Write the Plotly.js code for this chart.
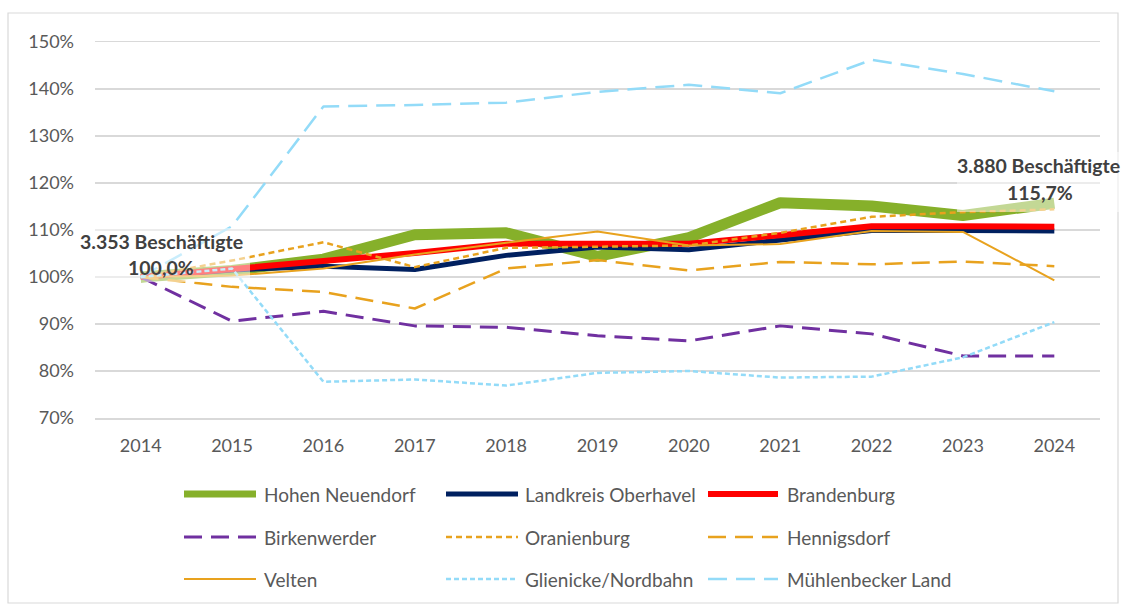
<!DOCTYPE html>
<html>
<head>
<meta charset="utf-8">
<script src="https://cdn.plot.ly/plotly-3.0.1.min.js"></script>
<style>
  html, body { margin: 0; padding: 0; background: #fff; }
  #chart { width: 1123px; height: 606px; }
  .scatterlayer path.js-line { stroke-linejoin: round; }
</style>
</head>
<body>
<div id="chart"></div>
<script>
// ---- data ----
const years = ['2014','2015','2016','2017','2018','2019','2020','2021','2022','2023','2024'];
const seriesNames = ['Hohen Neuendorf','Landkreis Oberhavel','Brandenburg','Birkenwerder','Oranienburg','Hennigsdorf','Velten','Glienicke/Nordbahn','Mühlenbecker Land'];
const hohenNeuendorf = [100, 101.4, 103.8, 109.0, 109.4, 104.4, 108.4, 115.8, 115.1, 113.1, 115.7];
const landkreisOberhavel = [100, 101.5, 102.3, 101.6, 104.6, 106.4, 105.8, 107.8, 109.9, 109.9, 109.8];
const brandenburg = [100, 101.6, 103.2, 105.1, 107.1, 107.2, 107.1, 108.9, 110.8, 110.8, 110.7];
const birkenwerder = [100, 90.6, 92.7, 89.6, 89.3, 87.5, 86.4, 89.6, 87.9, 83.2, 83.2];
const oranienburg = [100, 103.5, 107.4, 102.1, 106.2, 106.4, 106.7, 109.4, 112.8, 113.8, 114.4];
const hennigsdorf = [100, 97.9, 96.8, 93.3, 101.8, 103.6, 101.4, 103.2, 102.7, 103.3, 102.3];
const velten = [100, 100.3, 101.8, 104.8, 107.3, 109.7, 106.7, 107.0, 109.8, 109.6, 99.3];
const glienicke = [100, 101.8, 77.7, 78.2, 76.9, 79.6, 80.0, 78.6, 78.8, 82.9, 90.4];
const muehlenbecker = [100, 110.8, 136.3, 136.6, 137.1, 139.4, 140.9, 139.1, 146.2, 143.2, 139.5];
const startLabel = ['3.353 Beschäftigte', '100,0%'];
const endLabel = ['3.880 Beschäftigte', '115,7%'];

// ---- styles ----
const values = [hohenNeuendorf, landkreisOberhavel, brandenburg, birkenwerder, oranienburg, hennigsdorf, velten, glienicke, muehlenbecker];
const styles = [
  {color: '#86B02A', width: 11, dash: 'solid'},
  {color: '#002060', width: 5, dash: 'solid'},
  {color: '#FF0000', width: 6, dash: 'solid'},
  {color: '#7030A0', width: 3, dash: '18px,9px'},
  {color: '#E8A21E', width: 2.5, dash: '6px,4px'},
  {color: '#E8A21E', width: 2.5, dash: '18px,9px'},
  {color: '#E8A21E', width: 2, dash: 'solid'},
  {color: '#93DBF8', width: 2.5, dash: '5px,3px'},
  {color: '#93DBF8', width: 2.5, dash: '19px,9px'}
];

const L = 95, R = 1100, T = 42, B = 418;
const px = p => (p - L) / (R - L);
const py = p => (B - p) / (B - T);

const traces = values.map((v, i) => ({
  type: 'scatter', mode: 'lines', x: years, y: v, name: seriesNames[i],
  line: {color: styles[i].color, width: styles[i].width, dash: styles[i].dash},
  hoverinfo: 'skip', showlegend: false
}));

const shapes = [];
const annotations = [];
// outer border
shapes.push({type: 'rect', xref: 'paper', yref: 'paper', x0: px(8), x1: px(1118), y0: py(13), y1: py(603),
  line: {color: '#D9D9D9', width: 1.2}, fillcolor: 'rgba(0,0,0,0)', layer: 'below'});
// label boxes (semi-transparent)
shapes.push({type: 'rect', xref: 'paper', yref: 'paper', x0: px(78), x1: px(250), y0: py(228), y1: py(282),
  line: {width: 0}, fillcolor: 'rgba(255,255,255,0.5)', layer: 'above'});
shapes.push({type: 'rect', xref: 'paper', yref: 'paper', x0: px(957), x1: px(1120), y0: py(152), y1: py(212),
  line: {width: 0}, fillcolor: 'rgba(255,255,255,0.5)', layer: 'above'});

const lblFont = {family: 'Lato, sans-serif', size: 19.5, color: '#404040', weight: 'bold'};
annotations.push({xref: 'paper', yref: 'paper', x: px(161), y: py(241), text: '<b>' + startLabel[0] + '</b>', showarrow: false, font: lblFont, xanchor: 'center', yanchor: 'middle'});
annotations.push({xref: 'paper', yref: 'paper', x: px(161), y: py(267), text: '<b>' + startLabel[1] + '</b>', showarrow: false, font: lblFont, xanchor: 'center', yanchor: 'middle'});
annotations.push({xref: 'paper', yref: 'paper', x: px(1038), y: py(165), text: '<b>' + endLabel[0] + '</b>', showarrow: false, font: lblFont, xanchor: 'center', yanchor: 'middle'});
annotations.push({xref: 'paper', yref: 'paper', x: px(1040), y: py(192), text: '<b>' + endLabel[1] + '</b>', showarrow: false, font: lblFont, xanchor: 'center', yanchor: 'middle'});

// custom legend
const colX = [[184, 256, 262], [446, 518, 523], [708, 778, 785]];
const rowY = [494, 537, 579];
seriesNames.forEach((n, i) => {
  const c = colX[i % 3], r = rowY[Math.floor(i / 3)];
  shapes.push({type: 'line', xref: 'paper', yref: 'paper', x0: px(c[0]), x1: px(c[1]), y0: py(r), y1: py(r),
    line: {color: styles[i].color, width: Math.min(styles[i].width, 7), dash: styles[i].dash}});
  annotations.push({xref: 'paper', yref: 'paper', x: px(c[2]), y: py(r), text: n, showarrow: false,
    xanchor: 'left', yanchor: 'middle', font: {family: 'Lato, sans-serif', size: 19, color: '#595959'}});
});

const layout = {
  width: 1123, height: 606,
  margin: {l: L, r: 1123 - R, t: T, b: 606 - B, pad: 0},
  paper_bgcolor: '#fff', plot_bgcolor: '#fff',
  showlegend: false,
  font: {family: 'Lato, sans-serif', size: 18, color: '#595959'},
  xaxis: {type: 'category', range: [-0.5, 10.5], showgrid: false, zeroline: false,
    showline: true, linecolor: '#D9D9D9', linewidth: 1.5, mirror: true, ticks: '',
    tickfont: {family: 'Lato, sans-serif', size: 18, color: '#595959'}, ticklabelstandoff: 11, fixedrange: true},
  yaxis: {range: [70, 150], dtick: 10, tick0: 70, ticksuffix: '%', showgrid: true, gridcolor: '#D9D9D9', gridwidth: 1.5,
    zeroline: false, showline: false, ticks: '', ticklabelstandoff: 20,
    tickfont: {family: 'Lato, sans-serif', size: 18, color: '#595959'}, fixedrange: true},
  shapes: shapes,
  annotations: annotations
};

Plotly.newPlot('chart', traces, layout, {displayModeBar: false, staticPlot: true});
</script>
</body>
</html>
